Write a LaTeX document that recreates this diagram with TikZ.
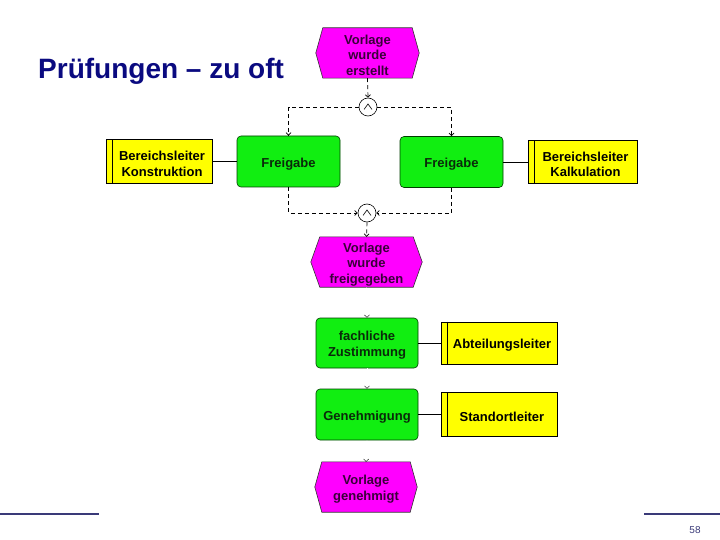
\documentclass[tikz,border=0pt]{standalone}
\usepackage{fontspec}
\setmainfont{Liberation Sans}
\usetikzlibrary{arrows.meta,backgrounds}
\definecolor{evfill}{HTML}{FF00FF}
\definecolor{fnfill}{HTML}{11EE11}
\definecolor{orgfill}{HTML}{FFFF00}
\definecolor{titleblue}{HTML}{0A0A80}
\definecolor{rulecol}{HTML}{3A3A78}
\definecolor{evtext}{HTML}{3A003A}
\definecolor{fntext}{HTML}{0A2A0A}
\newcommand{\fl}{\rule{0pt}{14pt}}
\tikzset{
  boxtext/.style={font=\fontsize{13}{15.5}\selectfont\bfseries, align=center, inner sep=0pt},
  evbox/.style={boxtext, minimum width=103pt, minimum height=50pt, text=evtext},
  hexa/.style={fill=evfill, draw=black!80, line width=0.6pt},
  fnbox/.style={boxtext, rectangle, rounded corners=4pt, fill=fnfill, draw=black!60!green!60!black, line width=0.6pt, minimum width=103pt, minimum height=51pt, text=fntext},
  orgbox/.style={boxtext, rectangle, fill=orgfill, draw=black, line width=0.6pt, minimum height=44pt},
  opnode/.style={circle, draw=black, fill=white, line width=0.6pt, minimum size=18pt, inner sep=0pt},
  ctl/.style={dashed, dash pattern=on 4pt off 3pt, line width=0.7pt, -{Straight Barb[length=2.5pt,width=5pt]}},
  flow/.style={draw=white, -{Straight Barb[length=2.5pt,width=5pt,color=black]}},
  assoc/.style={line width=0.8pt, draw=black},
}
\newcommand{\hexof}[2]{%
  \begin{scope}[on background layer]
  \draw[hexa] (#1.west) -- ([xshift=#2]#1.north west) -- ([xshift=-#2]#1.north east) -- (#1.east) -- ([xshift=-#2]#1.south east) -- ([xshift=#2]#1.south west) -- cycle;
  \end{scope}}
\newcommand{\stripeof}[1]{\draw[line width=0.6pt] ([xshift=7pt]#1.north west) -- ([xshift=7pt]#1.south west);}
\newcommand{\andof}[1]{\draw[line width=0.6pt] ([shift={(-4,2.5)}]#1.center) -- ([shift={(0,-3)}]#1.center) -- ([shift={(4,2.5)}]#1.center);}
\begin{document}
\begin{tikzpicture}[x=1pt,y=-1pt]
\useasboundingbox (0,0) rectangle (720,540);

% title
\node[anchor=base west, inner sep=0pt, text=titleblue, font=\fontsize{28}{32}\selectfont\bfseries] (title) at (38,79) {Prüfungen – zu oft};

% events
\node[evbox] (e1) at (367.5,53) {\fl Vorlage\\wurde\\erstellt};
\hexof{e1}{7pt}
\node[evbox, minimum width=111pt] (e2) at (366.5,262) {\fl Vorlage\\wurde\\freigegeben};
\hexof{e2}{9pt}
\node[evbox, minimum width=102pt] (e3) at (366,487) {\fl Vorlage\\genehmigt};
\hexof{e3}{7pt}

% operators
\node[opnode] (j1) at (368,107) {};
\andof{j1}
\node[opnode] (j2) at (367,213) {};
\andof{j2}

% functions
\node[fnbox] (f1) at (288.5,161.5) {\fl Freigabe};
\node[fnbox] (f2) at (451.5,162) {\fl Freigabe};
\node[fnbox, minimum width=102pt, minimum height=50pt] (f3) at (367,343) {\fl fachliche\\Zustimmung};
\node[fnbox, minimum width=102pt] (f4) at (367,414.5) {\fl Genehmigung};

% organisational units
\node[orgbox, minimum width=106pt] (o1) at (159,161.5) {\fl\hspace*{6pt}Bereichsleiter\\\hspace*{6pt}Konstruktion};
\stripeof{o1}
\node[orgbox, minimum width=109pt, minimum height=43pt] (o2) at (582.5,162) {\fl\hspace*{6pt}Bereichsleiter\\\hspace*{6pt}Kalkulation};
\stripeof{o2}
\node[orgbox, minimum width=116pt, minimum height=42pt] (o3) at (499,343) {\fl\hspace*{6pt}Abteilungsleiter};
\stripeof{o3}
\node[orgbox, minimum width=116pt, minimum height=44pt] (o4) at (499,414.5) {\fl\hspace*{6pt}Standortleiter};
\stripeof{o4}

% control flow
\draw[ctl] (e1.south) -- (j1.north);
\draw[ctl] (j1.west) -| (f1.north);
\draw[ctl] (j1.east) -| (f2.north);
\draw[ctl] (f1.south) |- (j2.west);
\draw[ctl] (f2.south) |- (j2.east);
\draw[ctl] (j2.south) -- (e2.north);
\draw[flow] (e2.south) -- (f3.north);
\draw[flow] (f3.south) -- (f4.north);
\draw[flow] (f4.south) -- (e3.north);

% associations
\draw[assoc] (o1.east) -- (f1.west);
\draw[assoc] (f2.east) -- (o2.west);
\draw[assoc] (f3.east) -- (o3.west);
\draw[assoc] (f4.east) -- (o4.west);

% footer
\coordinate (l1) at (0,514);
\coordinate (l2) at (99,514);
\coordinate (r1) at (644,514);
\coordinate (r2) at (720,514);
\draw[rulecol, line width=2pt] (l1) -- (l2);
\draw[rulecol, line width=2pt] (r1) -- (r2);
\node[text=rulecol, font=\fontsize{10}{12}\selectfont, inner sep=0pt] (pg) at (695,530) {58};
\end{tikzpicture}
\end{document}
